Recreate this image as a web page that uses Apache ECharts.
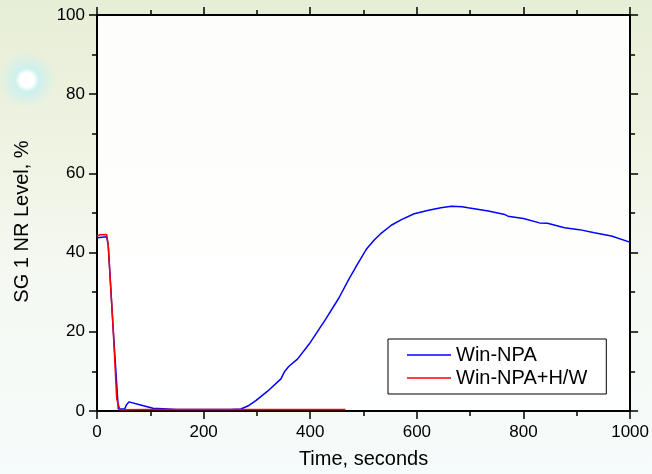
<!DOCTYPE html>
<html>
<head>
<meta charset="utf-8">
<script src="https://cdn.jsdelivr.net/npm/echarts@6/dist/echarts.min.js"></script>
<style>
html,body{margin:0;padding:0;}
body{width:652px;height:474px;overflow:hidden;
background:
 radial-gradient(circle at 27px 80px, #ffffff 0px, #ffffff 7px, rgba(200,240,240,0.85) 12px, rgba(220,245,240,0) 28px),
 linear-gradient(to bottom, #e7eed6 0%, #eef3e2 30%, #f5f9f3 60%, #f6fbfb 100%);}
#c{width:652px;height:474px;}
</style>
</head>
<body>
<div id="c"></div>
<script>
// Win-NPA (blue)
const blueT = [0, 5, 18, 21, 30, 40, 52, 55, 60, 80, 105, 150, 200, 250, 270, 285, 298, 320, 345, 352, 360, 376, 398, 429, 454, 472, 490, 506, 520, 534, 552, 572, 595, 622, 645, 665, 685, 696, 734, 765, 771, 800, 830, 845, 877, 905, 933, 965, 998, 1000];
const blueV = [43.7, 43.8, 44.0, 42.0, 21.5, 0.5, 0.5, 1.5, 2.3, 1.6, 0.7, 0.4, 0.4, 0.4, 0.5, 1.4, 2.6, 5.0, 8.1, 10.0, 11.3, 13.1, 16.9, 23.2, 28.6, 33.2, 37.4, 41.0, 43.2, 45.0, 46.9, 48.4, 49.8, 50.7, 51.3, 51.7, 51.6, 51.3, 50.5, 49.6, 49.2, 48.6, 47.5, 47.4, 46.3, 45.8, 45.0, 44.2, 42.7, 42.6];
// Win-NPA+H/W (red)
const redT = [0, 6, 18, 21, 30, 37, 43, 100, 200, 300, 400, 466];
const redV = [44.2, 44.5, 44.6, 42.0, 21.5, 3.0, 0.3, 0.4, 0.4, 0.4, 0.4, 0.4];
const seriesNames = ['Win-NPA', 'Win-NPA+H/W'];
const xTitle = 'Time, seconds';
const yTitle = 'SG 1 NR Level, %';

const zip = (a, b) => a.map((t, i) => [t, b[i]]);
const font = 'Arial, "Liberation Sans", sans-serif';

const chart = echarts.init(document.getElementById('c'), null, {renderer: 'canvas'});
const axisCommon = {
  axisLine: {show: true, onZero: false, lineStyle: {color: '#000', width: 2}},
  axisTick: {show: true, inside: false, length: 8, lineStyle: {color: '#000', width: 1.5}},
  minorTick: {show: true, splitNumber: 2, length: 5, lineStyle: {color: '#000', width: 1.5}},
  splitLine: {show: false},
  minorSplitLine: {show: false}
};
chart.setOption({
  animation: false,
  textStyle: {fontFamily: font},
  grid: {left: 97, right: 19, top: 15, bottom: 62, show: true, backgroundColor: 'rgba(255,255,255,0.88)', borderWidth: 0},
  legend: {
    data: seriesNames,
    orient: 'vertical',
    left: 388, top: 339,
    padding: [6, 19, 6, 19],
    icon: 'rect',
    itemWidth: 44, itemHeight: 1.5, itemGap: 3,
    borderColor: '#000', borderWidth: 1,
    backgroundColor: 'rgba(255,255,255,0.95)',
    textStyle: {fontSize: 20, color: '#000', fontFamily: font, lineHeight: 20}
  },
  xAxis: [
    Object.assign({}, axisCommon, {
      type: 'value', position: 'bottom', min: 0, max: 1000, interval: 200,
      axisLabel: {fontSize: 17, color: '#000', margin: 13, fontFamily: font, formatter: v => String(v)},
      name: xTitle, nameLocation: 'middle', nameGap: 38,
      nameTextStyle: {fontSize: 20, color: '#000', fontFamily: font}
    }),
    Object.assign({}, axisCommon, {
      type: 'value', position: 'top', min: 0, max: 1000, interval: 200,
      axisLabel: {show: false}
    })
  ],
  yAxis: [
    Object.assign({}, axisCommon, {
      type: 'value', position: 'left', min: 0, max: 100, interval: 20,
      axisLabel: {fontSize: 17, color: '#000', margin: 12, fontFamily: font}
    }),
    Object.assign({}, axisCommon, {
      type: 'value', position: 'right', min: 0, max: 100, interval: 20,
      axisLabel: {show: false}
    })
  ],
  graphic: [{
    type: 'text', x: 22, y: 221.5, rotation: Math.PI / 2,
    style: {text: yTitle, fontSize: 20, fill: '#000', fontFamily: font, align: 'center', verticalAlign: 'middle'}
  }],
  series: [
    {name: seriesNames[0], type: 'line', data: zip(blueT, blueV), symbol: 'none', smooth: false,
     lineStyle: {color: '#0000ff', width: 1.5}, itemStyle: {color: '#0000ff'}, z: 3},
    {name: seriesNames[1], type: 'line', data: zip(redT, redV), symbol: 'none', smooth: false,
     lineStyle: {color: '#ff0000', width: 1.5}, itemStyle: {color: '#ff0000'}, z: 4}
  ]
});
</script>
</body>
</html>
